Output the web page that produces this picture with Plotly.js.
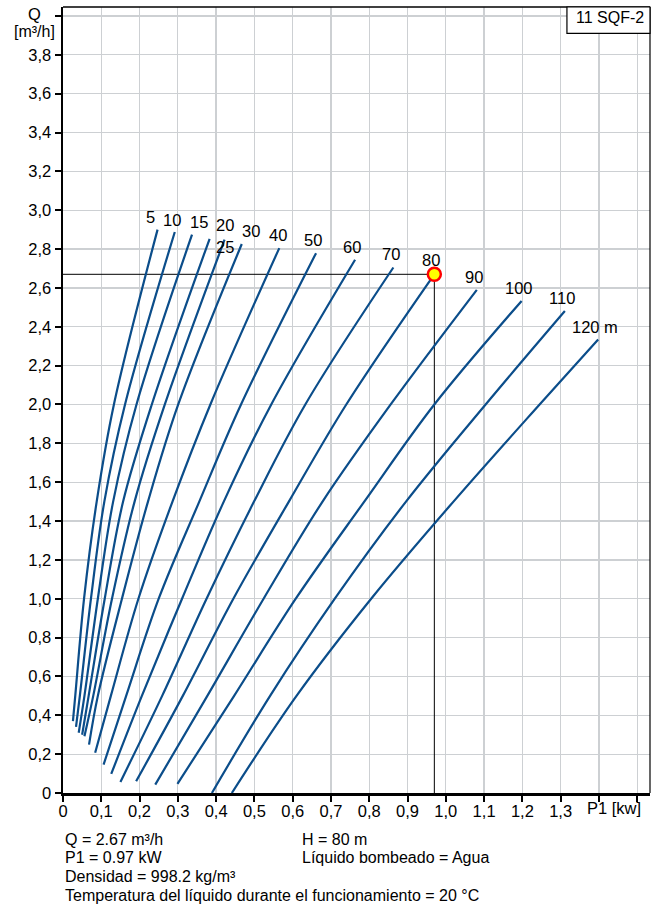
<!DOCTYPE html>
<html>
<head>
<meta charset="utf-8">
<script src="https://cdn.plot.ly/plotly-3.0.1.min.js"></script>
<style>
html,body{margin:0;padding:0;background:#fff;}
#chart{width:654px;height:909px;}
</style>
</head>
<body>
<div id="chart"></div>
<script>
// ---- Data ----
const heads = ['5', '10', '15', '20', '25', '30', '40', '50', '60', '70', '80', '90', '100', '110', '120 m'];

const p1_h5   = [0.026, 0.032, 0.055, 0.088, 0.133, 0.247];
const q_h5    = [0.370, 0.5, 1.0, 1.5, 2.0, 2.900];
const p1_h10  = [0.034, 0.044, 0.073, 0.108, 0.162, 0.292];
const q_h10   = [0.341, 0.5, 1.0, 1.5, 2.0, 2.888];
const p1_h15  = [0.041, 0.056, 0.091, 0.131, 0.192, 0.337];
const q_h15   = [0.310, 0.5, 1.0, 1.5, 2.0, 2.874];
const p1_h20  = [0.050, 0.067, 0.109, 0.157, 0.232, 0.383];
const q_h20   = [0.300, 0.5, 1.0, 1.5, 2.0, 2.853];
const p1_h25  = [0.056, 0.079, 0.128, 0.187, 0.266, 0.422];
const q_h25   = [0.292, 0.5, 1.0, 1.5, 2.0, 2.848];
const p1_h30  = [0.068, 0.091, 0.154, 0.222, 0.301, 0.467];
const q_h30   = [0.249, 0.5, 1.0, 1.5, 2.0, 2.826];
const p1_h40  = [0.084, 0.125, 0.197, 0.286, 0.385, 0.565];
const q_h40   = [0.207, 0.5, 1.0, 1.5, 2.0, 2.805];
const p1_h50  = [0.106, 0.165, 0.250, 0.356, 0.465, 0.661];
const q_h50   = [0.146, 0.5, 1.0, 1.5, 2.0, 2.779];
const p1_h60  = [0.126, 0.206, 0.311, 0.420, 0.544, 0.763];
const q_h60   = [0.098, 0.5, 1.0, 1.5, 2.0, 2.745];
const p1_h70  = [0.150, 0.259, 0.375, 0.499, 0.633, 0.863];
const q_h70   = [0.057, 0.5, 1.0, 1.5, 2.0, 2.705];
const p1_h80  = [0.191, 0.313, 0.445, 0.590, 0.740, 0.970];
const q_h80   = [0.060, 0.5, 1.0, 1.5, 2.0, 2.670];
const p1_h90  = [0.241, 0.377, 0.524, 0.678, 0.856, 1.081];
const q_h90   = [0.043, 0.5, 1.0, 1.5, 2.0, 2.590];
const p1_h100 = [0.299, 0.447, 0.608, 0.787, 0.970, 1.198];
const q_h100  = [0.047, 0.5, 1.0, 1.5, 2.0, 2.533];
const p1_h110 = [0.389, 0.541, 0.710, 0.896, 1.104, 1.311];
const q_h110  = [0.0, 0.5, 1.0, 1.5, 2.0, 2.481];
const p1_h120 = [0.441, 0.610, 0.805, 1.020, 1.245, 1.398];
const q_h120  = [0.0, 0.5, 1.0, 1.5, 2.0, 2.335];

const dutyQ = 2.67;
const dutyP1 = 0.97;

const xTickVals = [0, 0.1, 0.2, 0.3, 0.4, 0.5, 0.6, 0.7, 0.8, 0.9, 1.0, 1.1, 1.2, 1.3, 1.4, 1.5];
const xTickText = ['0', '0,1', '0,2', '0,3', '0,4', '0,5', '0,6', '0,7', '0,8', '0,9', '1,0', '1,1', '1,2', '1,3', '', ''];
const yTickVals = [0, 0.2, 0.4, 0.6, 0.8, 1.0, 1.2, 1.4, 1.6, 1.8, 2.0, 2.2, 2.4, 2.6, 2.8, 3.0, 3.2, 3.4, 3.6, 3.8, 4.0];
const yTickText = ['0', '0,2', '0,4', '0,6', '0,8', '1,0', '1,2', '1,4', '1,6', '1,8', '2,0', '2,2', '2,4', '2,6', '2,8', '3,0', '3,2', '3,4', '3,6', '3,8', ''];

const infoLeft = ['Q = 2.67 m³/h', 'P1 = 0.97 kW', 'Densidad = 998.2 kg/m³', 'Temperatura del líquido durante el funcionamiento = 20 °C'];
const infoRight = ['H = 80 m', 'Líquido bombeado = Agua'];

// ---- Build ----
const curvesP = [p1_h5, p1_h10, p1_h15, p1_h20, p1_h25, p1_h30, p1_h40, p1_h50, p1_h60, p1_h70, p1_h80, p1_h90, p1_h100, p1_h110, p1_h120];
const curvesQ = [q_h5, q_h10, q_h15, q_h20, q_h25, q_h30, q_h40, q_h50, q_h60, q_h70, q_h80, q_h90, q_h100, q_h110, q_h120];

const FONT = 'Liberation Sans, Arial, sans-serif';
const FS = 16.5;
const BLUE = '#0b4d8a';

const traces = [];
traces.push({x: [0, dutyP1, dutyP1], y: [dutyQ, dutyQ, 0], mode: 'lines', line: {color: '#000', width: 1}, hoverinfo: 'skip', showlegend: false});
curvesP.forEach((p, i) => {
  traces.push({x: p, y: curvesQ[i], mode: 'lines', line: {color: BLUE, width: 2.2, shape: 'spline', smoothing: 1}, showlegend: false, name: heads[i]});
});
traces.push({x: [dutyP1], y: [dutyQ], mode: 'markers', marker: {size: 13, color: '#ffff00', line: {color: '#ff0000', width: 2.5}}, showlegend: false});

const labelDX = [-7, -3, 6.6, 15, 0, 9, -1.7, -3, -2.7, -2.6, -3.3, -3, -2.7, -2.7, -3.3];
const labelDY = [12.7, 12.3, 12.7, 13.4, -7.6, 12.7, 13.3, 13.3, 12.7, 13.3, 14.4, 12.7, 12.7, 13.4, 12];
const annotations = [];
curvesP.forEach((p, i) => {
  const n = p.length - 1;
  annotations.push({x: p[n], y: curvesQ[i][n], xref: 'x', yref: 'y', text: heads[i], showarrow: false,
    xanchor: 'center', yanchor: 'middle', xshift: labelDX[i], yshift: labelDY[i], font: {family: FONT, size: FS, color: '#000'}});
});
annotations.push({x: -0.048, y: 0.9915, xref: 'paper', yref: 'paper', text: 'Q', showarrow: false, xanchor: 'center', yanchor: 'middle', font: {family: FONT, size: FS, color: '#000'}});
annotations.push({x: -0.048, y: 0.9685, xref: 'paper', yref: 'paper', text: '[m³/h]', showarrow: false, xanchor: 'center', yanchor: 'middle', font: {family: FONT, size: 16, color: '#000'}});
annotations.push({x: 1.44, y: -0.0195, xref: 'x', yref: 'paper', text: 'P1 [kw]', showarrow: false, xanchor: 'center', yanchor: 'middle', font: {family: FONT, size: FS, color: '#000'}});
annotations.push({x: 0.932, y: 0.9865, xref: 'paper', yref: 'paper', text: '11 SQF-2', showarrow: false, xanchor: 'center', yanchor: 'middle', font: {family: FONT, size: 16, color: '#000'}});
const rowY = [-0.0593, -0.0821, -0.1063, -0.1303];
infoLeft.forEach((t, i) => {
  annotations.push({x: 0, y: rowY[i], xref: 'paper', yref: 'paper', text: t, showarrow: false, xanchor: 'left', yanchor: 'middle', font: {family: FONT, size: 16, color: '#000'}});
});
infoRight.forEach((t, i) => {
  annotations.push({x: 0.404, y: rowY[i], xref: 'paper', yref: 'paper', text: t, showarrow: false, xanchor: 'left', yanchor: 'middle', font: {family: FONT, size: 16, color: '#000'}});
});

const shapes = [
  {type: 'line', xref: 'paper', yref: 'paper', x0: 0, x1: 1, y0: 1, y1: 1, line: {color: '#000', width: 1.5}},
  {type: 'line', xref: 'paper', yref: 'paper', x0: 1, x1: 1, y0: 0, y1: 1, line: {color: '#000', width: 1.2}},
  {type: 'rect', xref: 'paper', yref: 'paper', x0: 0.8585, x1: 1, y0: 0.9665, y1: 1, fillcolor: '#fff', line: {color: '#000', width: 1.2}, layer: 'above'}
];

const layout = {
  width: 654, height: 909,
  margin: {l: 62.7, r: 4, t: 7, b: 115.6},
  paper_bgcolor: '#fff', plot_bgcolor: '#fff',
  font: {family: FONT, size: FS, color: '#000'},
  showlegend: false,
  xaxis: {range: [0, 1.5334], tickmode: 'array', tickvals: xTickVals, ticktext: xTickText,
    showgrid: true, gridcolor: '#cdd0d3', gridwidth: 1.3, zeroline: false,
    showline: true, linecolor: '#000', linewidth: 2.5, ticks: 'outside', ticklen: 6, tickwidth: 2, tickcolor: '#000',
    ticklabelstandoff: -4,
    tickfont: {family: FONT, size: FS, color: '#000'}, fixedrange: true},
  yaxis: {range: [0, 4.046], tickmode: 'array', tickvals: yTickVals, ticktext: yTickText,
    showgrid: true, gridcolor: '#cdd0d3', gridwidth: 1.3, zeroline: false,
    showline: true, linecolor: '#000', linewidth: 2.5, ticks: 'outside', ticklen: 6, tickwidth: 2, tickcolor: '#000',
    tickfont: {family: FONT, size: FS, color: '#000'}, fixedrange: true},
  annotations: annotations,
  shapes: shapes
};

Plotly.newPlot('chart', traces, layout, {staticPlot: true, displayModeBar: false});
</script>
</body>
</html>
